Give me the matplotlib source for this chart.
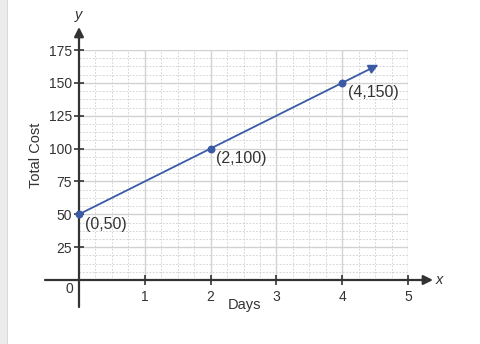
import matplotlib
matplotlib.use('Agg')
import matplotlib.pyplot as plt
from matplotlib.patches import Rectangle
import numpy as np

###############################
# data
###############################
days = [0, 2, 4]
cost = [50, 100, 150]
point_labels = ['(0,50)', '(2,100)', '(4,150)']
x_ticks = [1, 2, 3, 4, 5]
y_ticks = [25, 50, 75, 100, 125, 150, 175]
arrow_end = 4.55   # line continues past the last point

plt.rcParams['font.family'] = ['Liberation Sans', 'DejaVu Sans']

W, H = 481, 344
fig = plt.figure(figsize=(W / 100, H / 100), dpi=100)
fig.patch.set_facecolor('white')

# light gray strip on the left edge
fig.patches.append(Rectangle((0, 0), 7 / W, 1, transform=fig.transFigure,
                             facecolor='#ebebeb', edgecolor='none'))
fig.patches.append(Rectangle((7 / W, 0), 1 / W, 1, transform=fig.transFigure,
                             facecolor='#d8d8d8', edgecolor='none'))

# axes box = grid area, pixel coords of origin (79,280), top-right (408,50)
x0, y0, x1, y1 = 79, 280, 408, 50
ax = fig.add_axes([x0 / W, (H - y0) / H, (x1 - x0) / W, (y0 - y1) / H])
ax.set_xlim(0, 5)
ax.set_ylim(0, 175)
for s in ax.spines.values():
    s.set_visible(False)

# grid
for xv in np.arange(0.25, 5.0, 0.25):
    if abs(xv - round(xv)) > 1e-6:
        ax.axvline(xv, color='#cccccc', lw=0.6, ls=(0, (2, 2)), zorder=0)
for yv in np.arange(6.25, 175, 6.25):
    if abs(yv / 25 - round(yv / 25)) > 1e-6:
        ax.axhline(yv, color='#cccccc', lw=0.6, ls=(0, (2, 2)), zorder=0)
for xv in range(1, 6):
    ax.axvline(xv, color='#d2d2d2', lw=1.0, zorder=0)
for yv in y_ticks:
    ax.axhline(yv, color='#d2d2d2', lw=1.0, zorder=0)

# axis lines with arrows
px_x = 5 / (x1 - x0)
px_y = 175 / (y0 - y1)
axis_col = '#333333'
ax.annotate('', xy=(5 + 25 * px_x, 0), xytext=(-34 * px_x, 0),
            arrowprops=dict(arrowstyle='-|>', color=axis_col, lw=1.6,
                            mutation_scale=14, shrinkA=0, shrinkB=0),
            annotation_clip=False)
ax.annotate('', xy=(0, 175 + 23 * px_y), xytext=(0, -27 * px_y),
            arrowprops=dict(arrowstyle='-|>', color=axis_col, lw=1.6,
                            mutation_scale=14, shrinkA=0, shrinkB=0),
            annotation_clip=False)

# ticks
ax.set_xticks(x_ticks)
ax.set_yticks(y_ticks)
ax.tick_params(axis='both', direction='inout', length=7, width=1.2,
               color=axis_col, labelcolor='#333333', labelsize=10)
ax.tick_params(axis='x', pad=4)
ax.tick_params(axis='y', pad=1.5)

ax.text(-10 * px_x, -9 * px_y, '0', ha='center', va='center',
        fontsize=10, color='#333333')
ax.text(5 + 31 * px_x, 0, 'x', ha='center', va='center', fontsize=10.5,
        style='italic', color='#333333')
ax.text(0, 175 + 35 * px_y, 'y', ha='center', va='center', fontsize=10.5,
        style='italic', color='#333333')

# line and points
blue = '#3b5aa6'
ax.annotate('', xy=(arrow_end, 50 + 25 * arrow_end), xytext=(days[0], cost[0]),
            arrowprops=dict(arrowstyle='-|>', color=blue, lw=1.3,
                            mutation_scale=14, shrinkA=0, shrinkB=0),
            annotation_clip=False)
ax.scatter(days, cost, s=22, color=blue, zorder=5, clip_on=False)
for d, c, lab in zip(days, cost, point_labels):
    ax.annotate(lab, xy=(d, c), xytext=(4, -7), textcoords='offset points',
                ha='left', va='center', fontsize=11.5, color='#333333')

fig.text(245 / W, 1 - 305 / H, 'Days', ha='center', va='center',
         fontsize=10.5, color='#333333')
fig.text(36 / W, 1 - 155 / H, 'Total Cost', ha='center', va='center',
         rotation=90, fontsize=10.5, color='#333333')

fig.savefig('out.png', dpi=100)
